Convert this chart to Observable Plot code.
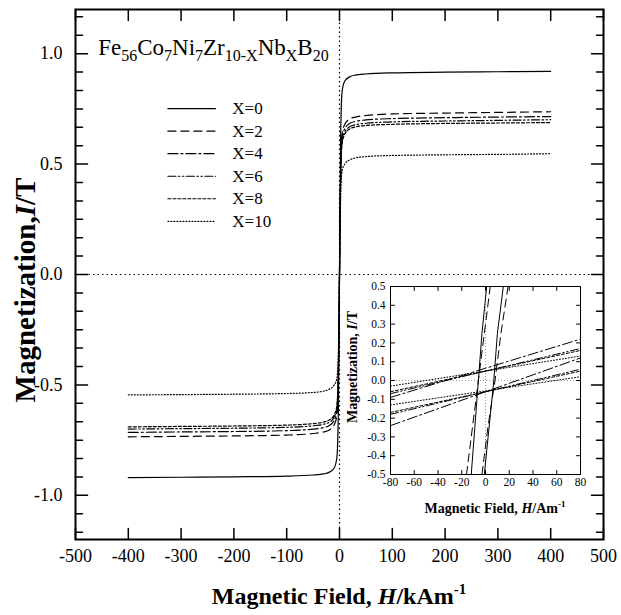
<!DOCTYPE html>
<html><head><meta charset="utf-8">
<script src="https://cdn.jsdelivr.net/npm/d3@7"></script>
<script src="https://cdn.jsdelivr.net/npm/@observablehq/plot@0.6"></script>
<style>
body{margin:0;background:#fff}
#wrap{position:relative;width:621px;height:615px}
#inset{position:absolute;left:330px;top:270px}
</style>
</head><body><div id="wrap"><div id="main"></div><div id="inset"></div></div>
<script>
// ---------- data (main plot, H in kA/m, I in T) ----------
const fieldKA = [-400,-300,-200,-100,-50,-30,-20,-10,-5,-2,0,2,5,10,20,30,50,100,200,300,400];
const magX0  = [-0.92,-0.918,-0.916,-0.913,-0.908,-0.903,-0.896,-0.876,-0.83,-0.6,0,0.6,0.83,0.876,0.896,0.903,0.908,0.913,0.916,0.918,0.92];
const magX2  = [-0.735,-0.733,-0.731,-0.727,-0.72,-0.713,-0.705,-0.68,-0.64,-0.45,0,0.45,0.64,0.68,0.705,0.713,0.72,0.727,0.731,0.734,0.737];
const magX4  = [-0.715,-0.713,-0.711,-0.707,-0.70,-0.693,-0.685,-0.66,-0.62,-0.43,0,0.43,0.62,0.66,0.685,0.693,0.70,0.706,0.71,0.713,0.715];
const magX6  = [-0.70,-0.698,-0.696,-0.692,-0.685,-0.678,-0.67,-0.645,-0.605,-0.42,0,0.42,0.605,0.645,0.67,0.678,0.685,0.691,0.695,0.698,0.701];
const magX8  = [-0.69,-0.688,-0.686,-0.682,-0.675,-0.668,-0.66,-0.635,-0.595,-0.41,0,0.41,0.595,0.635,0.66,0.668,0.675,0.68,0.684,0.686,0.688];
const magX10 = [-0.545,-0.544,-0.542,-0.539,-0.534,-0.528,-0.52,-0.50,-0.47,-0.33,0,0.33,0.47,0.50,0.52,0.528,0.534,0.539,0.542,0.544,0.547];
const seriesNames = ["X=0","X=2","X=4","X=6","X=8","X=10"];
const mainSeries = [magX0, magX2, magX4, magX6, magX8, magX10];
const dashes = [null, "8,5", "10,3,2,3", "8,2.5,1.5,2.5,1.5,2.5", "3,2", "1,2"];

// ---------- data (inset, H in A/m) ----------
const insetSteepM = [-0.5,-0.25,0,0.25,0.5];
const insetDescH0 = [-12,-9,-6,-3,1];
const insetAscH0  = [-1,3,7,10,15];
const insetDescH2 = [-16,-11,-6,-1,4];
const insetAscH2  = [-3,2,8,13,19];
const insetH3 = [-80, 0, 80];
const insetDesc4 = [-0.09, 0.065, 0.22],  insetAsc4 = [-0.24, -0.06, 0.12];
const insetDesc6 = [-0.07, 0.05, 0.17],   insetAsc6 = [-0.18, -0.06, 0.06];
const insetDesc8 = [-0.06, 0.05, 0.16],   insetAsc8 = [-0.17, -0.06, 0.05];
const insetDesc10 = [-0.03, 0.05, 0.13],  insetAsc10 = [-0.13, -0.055, 0.02];

// ---------- ticks ----------
const mainTicksX = [-500,-400,-300,-200,-100,0,100,200,300,400,500];
const mainTicksY = [-1.0,-0.5,0.0,0.5,1.0];
const mainTickLabelsY = ["-1.0","-0.5","0.0","0.5","1.0"];
const mainMinorY = d3.range(-14, 15).map(k => k / 12).filter(v => Math.abs(v * 2 - Math.round(v * 2)) > 1e-6);
const insetTicksX = [-80,-60,-40,-20,0,20,40,60,80];
const insetTicksY = [-0.5,-0.4,-0.3,-0.2,-0.1,0.0,0.1,0.2,0.3,0.4,0.5];
const insetTickLabelsY = ["-0.5","-0.4","-0.3","-0.2","-0.1","0.0","0.1","0.2","0.3","0.4","0.5"];

const FONT = "Liberation Serif";
const tickShape = {draw(context, l) { context.moveTo(0, 0); context.lineTo(0, -l); }};
function ticksX(values, len, sw) {
  return [
    Plot.vector(values, {x: d => d, frameAnchor: "bottom", length: len, rotate: 0, anchor: "start", shape: tickShape, stroke: "black", strokeWidth: sw}),
    Plot.vector(values, {x: d => d, frameAnchor: "top", length: len, rotate: 180, anchor: "start", shape: tickShape, stroke: "black", strokeWidth: sw})
  ];
}
function ticksY(values, len, sw) {
  return [
    Plot.vector(values, {y: d => d, frameAnchor: "left", length: len, rotate: 90, anchor: "start", shape: tickShape, stroke: "black", strokeWidth: sw}),
    Plot.vector(values, {y: d => d, frameAnchor: "right", length: len, rotate: -90, anchor: "start", shape: tickShape, stroke: "black", strokeWidth: sw})
  ];
}
function pts(xs, ys) { return xs.map((x, i) => ({x, y: ys[i]})); }

// ---------- main plot ----------
const legendX = [-325, -235], legendTextX = -203, legendTop = 0.751, legendStep = 0.102;
const mainMarks = [
  Plot.ruleY([0], {stroke: "black", strokeWidth: 1.2, strokeDasharray: "1.5,3"}),
  Plot.ruleX([0], {stroke: "black", strokeWidth: 1.2, strokeDasharray: "1.5,3"}),
];
mainSeries.forEach((m, i) => {
  mainMarks.push(Plot.line(pts(fieldKA, m), {x: "x", y: "y", stroke: "black", strokeWidth: 1.2, strokeDasharray: dashes[i], curve: "monotone-x"}));
  const ly = legendTop - i * legendStep;
  mainMarks.push(Plot.line([{x: legendX[0], y: ly}, {x: legendX[1], y: ly}], {x: "x", y: "y", stroke: "black", strokeWidth: 1.2, strokeDasharray: dashes[i]}));
  mainMarks.push(Plot.text([seriesNames[i]], {x: legendTextX, y: ly, text: d => d, textAnchor: "start", fontSize: 17, fill: "black"}));
});
mainMarks.push(
  ...ticksX(mainTicksX, 11, 1.5),
  ...ticksY(mainTicksY, 12, 1.5),
  ...ticksY(mainMinorY, 7, 1.5),
  Plot.frame({stroke: "black", strokeWidth: 2}),
  Plot.text(mainTicksX, {x: d => d, frameAnchor: "bottom", dy: 22, text: d => String(d), fontSize: 18, fill: "black"}),
  Plot.text(mainTicksY, {y: d => d, frameAnchor: "left", dx: -13, textAnchor: "end", text: (d, i) => mainTickLabelsY[i], fontSize: 18, fill: "black"})
);
const mainSvg = Plot.plot({
  width: 621, height: 615,
  marginLeft: 75, marginRight: 18, marginTop: 9, marginBottom: 76,
  x: {domain: [-500, 500], axis: null},
  y: {domain: [-1.2, 1.2], axis: null},
  style: {fontFamily: FONT, background: "white", color: "black"},
  marks: mainMarks
});
document.getElementById("main").appendChild(mainSvg);

const sx = mainSvg.scale("x"), sy = mainSvg.scale("y");
const msel = d3.select(mainSvg);
// formula
{
  const t = msel.append("text").attr("x", sx.apply(-456)).attr("y", sy.apply(0.99)).attr("text-anchor", "start")
    .attr("font-family", FONT).attr("font-size", 23).attr("fill", "black");
  const parts = [["Fe",0],["56",1],["Co",0],["7",1],["Ni",0],["7",1],["Zr",0],["10-X",1],["Nb",0],["X",1],["B",0],["20",1]];
  let prev = 0;
  for (const [s, sub] of parts) {
    t.append("tspan").attr("dy", sub === prev ? 0 : (sub ? 6 : -6)).attr("font-size", sub ? 16 : 23).text(s);
    prev = sub;
  }
}
// x title
{
  const t = msel.append("text").attr("x", 339).attr("y", 604).attr("text-anchor", "middle")
    .attr("font-family", FONT).attr("font-size", 24).attr("font-weight", "bold").attr("fill", "black");
  t.append("tspan").text("Magnetic Field, ");
  t.append("tspan").attr("font-style", "italic").text("H");
  t.append("tspan").text("/kAm");
  t.append("tspan").attr("dy", -10).attr("font-size", 15).text("-1");
}
// y title
{
  const t = msel.append("text").attr("transform", "translate(35,290) rotate(-90)").attr("text-anchor", "middle")
    .attr("font-family", FONT).attr("font-size", 29).attr("font-weight", "bold").attr("fill", "black");
  t.append("tspan").text("Magnetization,");
  t.append("tspan").attr("font-style", "italic").text("I");
  t.append("tspan").text("/T");
}

// ---------- inset ----------
const insetMarks = [
  Plot.frame({fill: "white", stroke: null}),
  Plot.ruleY([0], {stroke: "#999", strokeWidth: 1, strokeDasharray: "1,2"}),
  Plot.ruleX([0], {stroke: "#999", strokeWidth: 1, strokeDasharray: "1,2"}),
  Plot.line(pts(insetDescH0, insetSteepM), {x: "x", y: "y", stroke: "black", strokeWidth: 1}),
  Plot.line(pts(insetAscH0, insetSteepM), {x: "x", y: "y", stroke: "black", strokeWidth: 1}),
  Plot.line(pts(insetDescH2, insetSteepM), {x: "x", y: "y", stroke: "black", strokeWidth: 1, strokeDasharray: dashes[1]}),
  Plot.line(pts(insetAscH2, insetSteepM), {x: "x", y: "y", stroke: "black", strokeWidth: 1, strokeDasharray: dashes[1]}),
];
[[insetDesc4, insetAsc4, 2], [insetDesc6, insetAsc6, 3], [insetDesc8, insetAsc8, 4], [insetDesc10, insetAsc10, 5]].forEach(([d, a, k]) => {
  insetMarks.push(Plot.line(pts(insetH3, d), {x: "x", y: "y", stroke: "black", strokeWidth: 1, strokeDasharray: dashes[k]}));
  insetMarks.push(Plot.line(pts(insetH3, a), {x: "x", y: "y", stroke: "black", strokeWidth: 1, strokeDasharray: dashes[k]}));
});
insetMarks.push(
  ...ticksX(insetTicksX, 4, 1),
  ...ticksY(insetTicksY, 4, 1),
  Plot.frame({stroke: "black", strokeWidth: 1}),
  Plot.text(insetTicksX, {x: d => d, frameAnchor: "bottom", dy: 11, text: d => String(d), fontSize: 11.5, fill: "black"}),
  Plot.text(insetTicksY, {y: d => d, frameAnchor: "left", dx: -5, textAnchor: "end", text: (d, i) => insetTickLabelsY[i], fontSize: 11.5, fill: "black"})
);
const insetSvg = Plot.plot({
  width: 260, height: 250,
  marginLeft: 60, marginRight: 10, marginTop: 16, marginBottom: 46,
  x: {domain: [-80, 80], axis: null},
  y: {domain: [-0.5, 0.5], axis: null},
  style: {fontFamily: FONT, background: "transparent", color: "black", overflow: "visible"},
  marks: insetMarks
});
document.getElementById("inset").appendChild(insetSvg);
const isel = d3.select(insetSvg);
{
  const t = isel.append("text").attr("x", 165).attr("y", 243).attr("text-anchor", "middle")
    .attr("font-family", FONT).attr("font-size", 14).attr("font-weight", "bold").attr("fill", "black");
  t.append("tspan").text("Magnetic Field, ");
  t.append("tspan").attr("font-style", "italic").text("H");
  t.append("tspan").text("/Am");
  t.append("tspan").attr("dy", -6).attr("font-size", 9).text("-1");
}
{
  const t = isel.append("text").attr("transform", "translate(27,97) rotate(-90)").attr("text-anchor", "middle")
    .attr("font-family", FONT).attr("font-size", 14).attr("font-weight", "bold").attr("fill", "black");
  t.append("tspan").text("Magnetization, ");
  t.append("tspan").attr("font-style", "italic").text("I");
  t.append("tspan").text("/T");
}
</script>
</body></html>
